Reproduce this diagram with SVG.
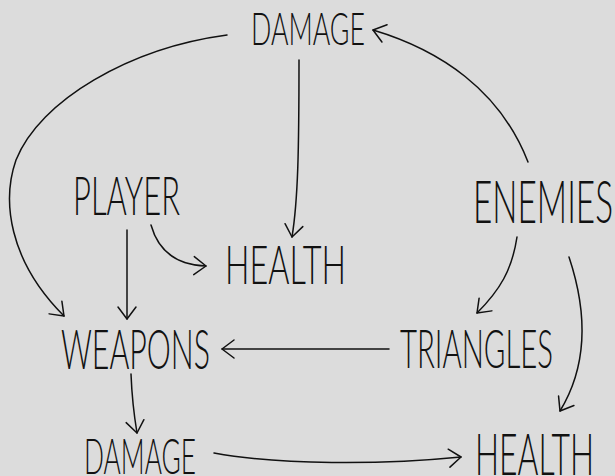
<svg xmlns="http://www.w3.org/2000/svg" width="615" height="476" viewBox="0 0 615 476">
<defs>
<style>
.lbl{font-family:"Lato","Roboto","Inter","DejaVu Sans",sans-serif;font-weight:300;fill:#111}
.c{fill:none;stroke:#111;stroke-width:1.5;stroke-linecap:round}
</style>
<marker id="ah" markerUnits="userSpaceOnUse" markerWidth="30" markerHeight="30" viewBox="-15 -15 30 30" refX="0" refY="0" orient="auto" overflow="visible">
<path d="M-12,-9 L0,0 L-12,9" fill="none" stroke="#111" stroke-width="1.5" stroke-linecap="round" stroke-linejoin="round"/>
</marker>
</defs>
<rect width="615" height="476" fill="#dcdcdc"/>
<g id="connectors">
<path class="c" d="M227,35 C130,48 40,100 16,160 C2,200 8,260 64,316" marker-end="url(#ah)"/>
<path class="c" d="M299,60 C299,150 298,200 292,237" marker-end="url(#ah)"/>
<path class="c" d="M528,162 C500,90 440,50 373,30" marker-end="url(#ah)"/>
<path class="c" d="M151,225 C158,250 175,265 206,266" marker-end="url(#ah)"/>
<path class="c" d="M127,230 L127,319" marker-end="url(#ah)"/>
<path class="c" d="M517,237 C512,270 500,290 477,313" marker-end="url(#ah)"/>
<path class="c" d="M569,257 C590,320 585,370 560,411" marker-end="url(#ah)"/>
<path class="c" d="M389,349 L222,349" marker-end="url(#ah)"/>
<path class="c" d="M131,374 C132,400 134,415 137,433" marker-end="url(#ah)"/>
<path class="c" d="M214,453 C280,465 380,465 461,457" marker-end="url(#ah)"/>
</g>
<g id="damage-top"><text class="lbl" x="251" y="45" font-size="46" textLength="114" lengthAdjust="spacingAndGlyphs">DAMAGE</text></g>
<g id="player"><text class="lbl" x="73" y="215" font-size="53" textLength="107" lengthAdjust="spacingAndGlyphs">PLAYER</text></g>
<g id="health-mid"><text class="lbl" x="225" y="284" font-size="54" textLength="121" lengthAdjust="spacingAndGlyphs">HEALTH</text></g>
<g id="enemies"><text class="lbl" x="473" y="223" font-size="60" textLength="140" lengthAdjust="spacingAndGlyphs">ENEMIES</text></g>
<g id="weapons"><text class="lbl" x="61" y="369" font-size="55" textLength="149" lengthAdjust="spacingAndGlyphs">WEAPONS</text></g>
<g id="triangles"><text class="lbl" x="400" y="368" font-size="54" textLength="153" lengthAdjust="spacingAndGlyphs">TRIANGLES</text></g>
<g id="damage-bottom"><text class="lbl" x="84" y="474" font-size="50" textLength="112" lengthAdjust="spacingAndGlyphs">DAMAGE</text></g>
<g id="health-bottom"><text class="lbl" x="475" y="475" font-size="58" textLength="119" lengthAdjust="spacingAndGlyphs">HEALTH</text></g>
</svg>
